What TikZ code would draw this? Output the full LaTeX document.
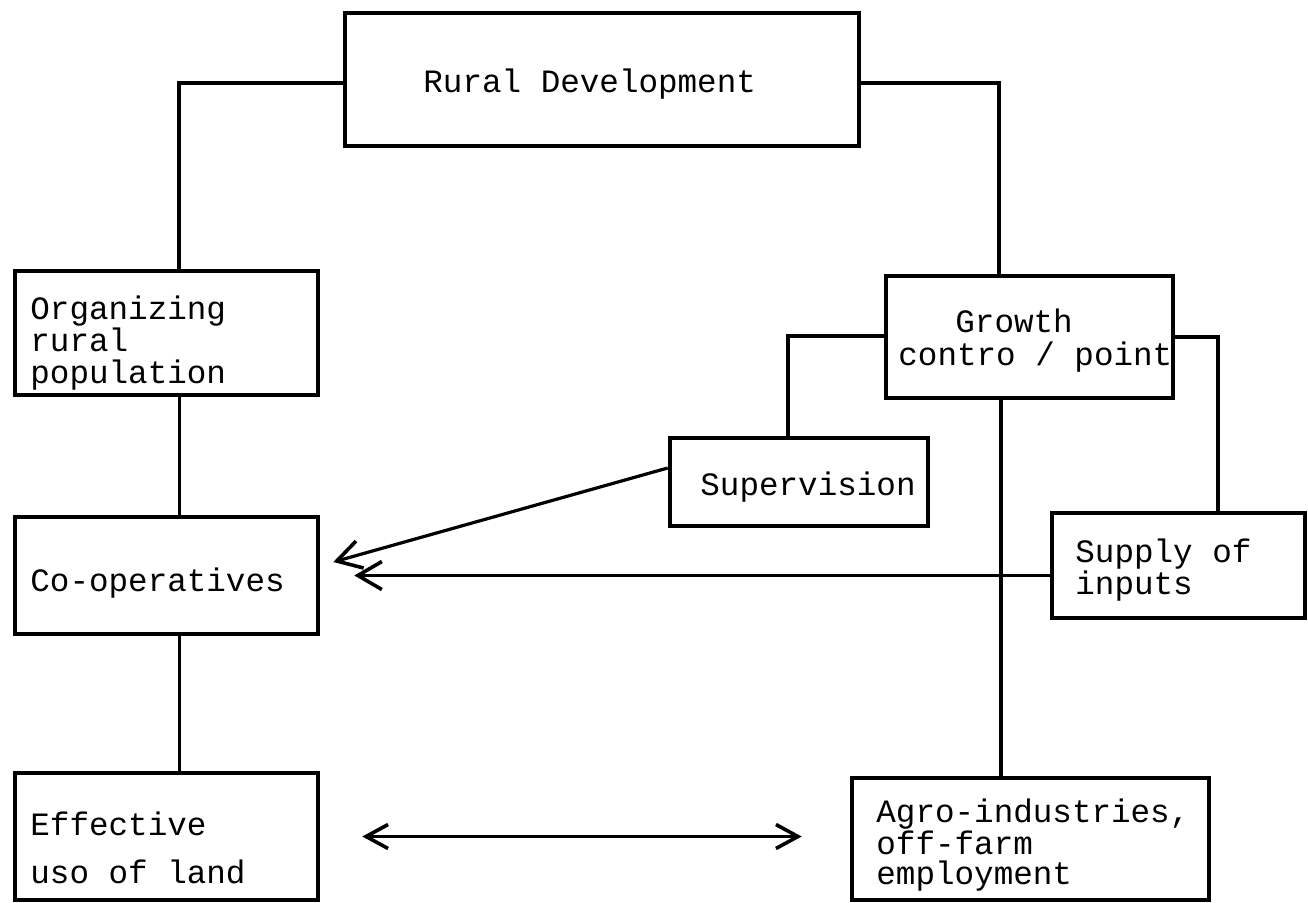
\documentclass[tikz,border=0pt]{standalone}
\usepackage{fontspec}
\newfontfamily\tw{Liberation Mono}
\usetikzlibrary{arrows.meta}
\begin{document}
\begin{tikzpicture}[x=0.5pt,y=-0.5pt,
  box/.style={draw, line width=2.3pt, inner sep=0pt},
  txt/.style={anchor=base west, inner sep=0pt, font=\tw\fontsize{16.3pt}{18pt}\selectfont},
  conn/.style={line width=1.6pt},
  arr/.style={line width=1.6pt, -{Straight Barb[length=12pt,width=14pt,line width=1.8pt]}},
  darr/.style={line width=1.6pt, {Straight Barb[length=11pt,width=12pt,line width=1.8pt]}-{Straight Barb[length=11pt,width=12pt,line width=1.8pt]}}
]
\useasboundingbox[fill=white] (0,0) rectangle (1308,902);
% boxes
\node[box, minimum width=257pt, minimum height=66.5pt] (rd) at (602,79.5) {};
\node[box, minimum width=151.5pt, minimum height=62pt] (org) at (166.5,333) {};
\node[box, minimum width=143.5pt, minimum height=61pt] (gr) at (1029.5,337) {};
\node[box, minimum width=129pt, minimum height=44pt] (sup) at (799,482) {};
\node[box, minimum width=126.5pt, minimum height=52.5pt] (inp) at (1178.5,565.5) {};
\node[box, minimum width=151.5pt, minimum height=58.5pt] (coop) at (166.5,575.5) {};
\node[box, minimum width=151.5pt, minimum height=63.5pt] (eff) at (166.5,836.5) {};
\node[box, minimum width=178.5pt, minimum height=61pt] (agro) at (1030.5,839) {};
% texts
\node[txt] (t1) at (423,92) {Rural Development};
\node[txt] (t2) at (30,319) {Organizing};
\node[txt] (t3) at (30,351) {rural};
\node[txt] (t4) at (30,383) {population};
\node[txt] (t5) at (955,332) {Growth};
\node[txt] (t6) at (898,365) {contro / point};
\node[txt] (t7) at (700,495) {Supervision};
\node[txt] (t8) at (1075,562) {Supply of};
\node[txt] (t9) at (1075,594) {inputs};
\node[txt] (t10) at (30,591) {Co-operatives};
\node[txt] (t11) at (30,835) {Effective};
\node[txt] (t12) at (30,883) {uso of land};
\node[txt] (t13) at (876,822) {Agro-industries,};
\node[txt] (t14) at (876,854) {off-farm};
\node[txt] (t15) at (876,884) {employment};
% connectors
\draw[conn] ([yshift=-1.75pt]rd.west) -| ([xshift=6.25pt]org.north);
\draw[conn] ([yshift=-1.75pt]rd.east) -| ([xshift=-15.25pt]gr.north);
\draw[conn] ([xshift=6.5pt]org.south) -- ([xshift=6.5pt]coop.north);
\draw[conn] ([xshift=6.5pt]coop.south) -- ([xshift=6.5pt]eff.north);
\draw[conn] ([yshift=0.5pt]gr.west) -| ([xshift=-5.5pt]sup.north);
\draw[conn] (gr.east) -| ([xshift=19.75pt]inp.north);
\draw[conn] ([xshift=-14.25pt]gr.south) -- ([xshift=-14.75pt]agro.north);
\draw[arr] (inp.west |- coop.east) -- ([xshift=17pt]coop.east);
\draw[arr] ([yshift=7pt]sup.west) -- ([xshift=6.5pt,yshift=6.75pt]coop.east);
\draw[darr] ([xshift=21pt]eff.east) -- ([xshift=-24pt]agro.west |- eff.east);
\end{tikzpicture}
\end{document}
